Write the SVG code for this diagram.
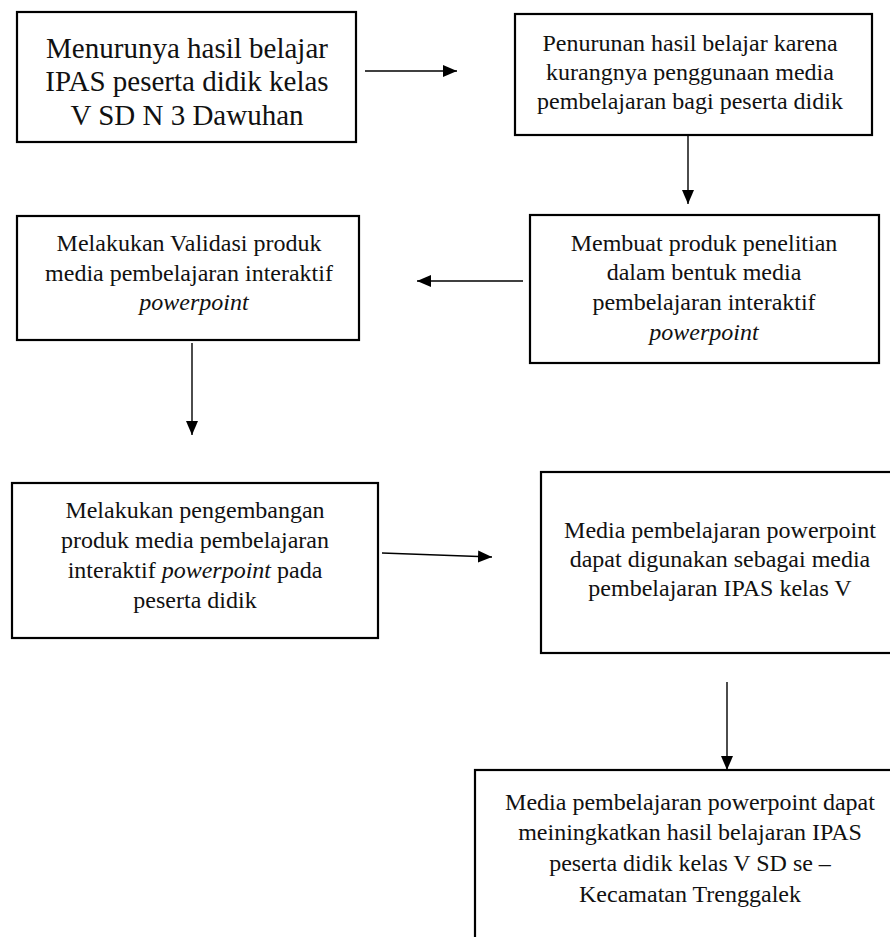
<svg xmlns="http://www.w3.org/2000/svg" width="890" height="937" viewBox="0 0 890 937">
<style>
.box{fill:#fff;stroke:#000;stroke-width:2.2}
.t{font-family:"Liberation Serif","Times New Roman",serif;font-size:24px;fill:#111;text-anchor:middle}
.big{font-size:29px}
.i{font-style:italic}
.c{stroke:#000;stroke-width:1.4;fill:none;marker-end:url(#ah)}
</style>
<defs>
<marker id="ah" markerUnits="userSpaceOnUse" markerWidth="14" markerHeight="12" refX="14" refY="6" orient="auto">
<path d="M0,0 L14,6 L0,12 z" fill="#000"/>
</marker>
</defs>
<rect width="890" height="937" fill="#fff"/>
<g id="n1">
<rect class="box" x="17" y="12" width="339" height="130"/>
<text class="t big" x="187" y="58">Menurunya hasil belajar</text>
<text class="t big" x="187" y="91">IPAS peserta didik kelas</text>
<text class="t big" x="187" y="125">V SD N 3 Dawuhan</text>
</g>
<g id="n2">
<rect class="box" x="515" y="14" width="357" height="121"/>
<text class="t" x="690" y="51">Penurunan hasil belajar karena</text>
<text class="t" x="690" y="80">kurangnya penggunaan media</text>
<text class="t" x="690" y="109">pembelajaran bagi peserta didik</text>
</g>
<g id="n3">
<rect class="box" x="530" y="215" width="349" height="148"/>
<text class="t" x="704" y="251">Membuat produk penelitian</text>
<text class="t" x="704" y="280">dalam bentuk media</text>
<text class="t" x="704" y="310">pembelajaran interaktif</text>
<text class="t i" x="704" y="340">powerpoint</text>
</g>
<g id="n4">
<rect class="box" x="17" y="216" width="342" height="124"/>
<text class="t" x="189" y="251">Melakukan Validasi produk</text>
<text class="t" x="189" y="281">media pembelajaran interaktif</text>
<text class="t i" x="194" y="310">powerpoint</text>
</g>
<g id="n5">
<rect class="box" x="12" y="483" width="366" height="155"/>
<text class="t" x="195" y="518">Melakukan pengembangan</text>
<text class="t" x="195" y="548">produk media pembelajaran</text>
<text class="t" x="195" y="578">interaktif <tspan class="i">powerpoint</tspan> pada</text>
<text class="t" x="195" y="608">peserta didik</text>
</g>
<g id="n6">
<rect class="box" x="541" y="472" width="360" height="181"/>
<text class="t" x="720" y="538">Media pembelajaran powerpoint</text>
<text class="t" x="720" y="567">dapat digunakan sebagai media</text>
<text class="t" x="720" y="596">pembelajaran IPAS kelas V</text>
</g>
<g id="n7">
<rect class="box" x="475" y="770" width="430" height="200"/>
<text class="t" x="690" y="810">Media pembelajaran powerpoint dapat</text>
<text class="t" x="690" y="840">meiningkatkan hasil belajaran IPAS</text>
<text class="t" x="690" y="871">peserta didik kelas V SD se –</text>
<text class="t" x="690" y="902">Kecamatan Trenggalek</text>
</g>
<g id="connectors">
<line class="c" x1="365" y1="71" x2="457" y2="71"/>
<line class="c" x1="688" y1="135" x2="688" y2="204"/>
<line class="c" x1="523" y1="281" x2="417" y2="281"/>
<line class="c" x1="192" y1="343" x2="192" y2="435"/>
<line class="c" x1="382" y1="553" x2="492" y2="557"/>
<line class="c" x1="727" y1="682" x2="727" y2="770"/>
</g>
</svg>
